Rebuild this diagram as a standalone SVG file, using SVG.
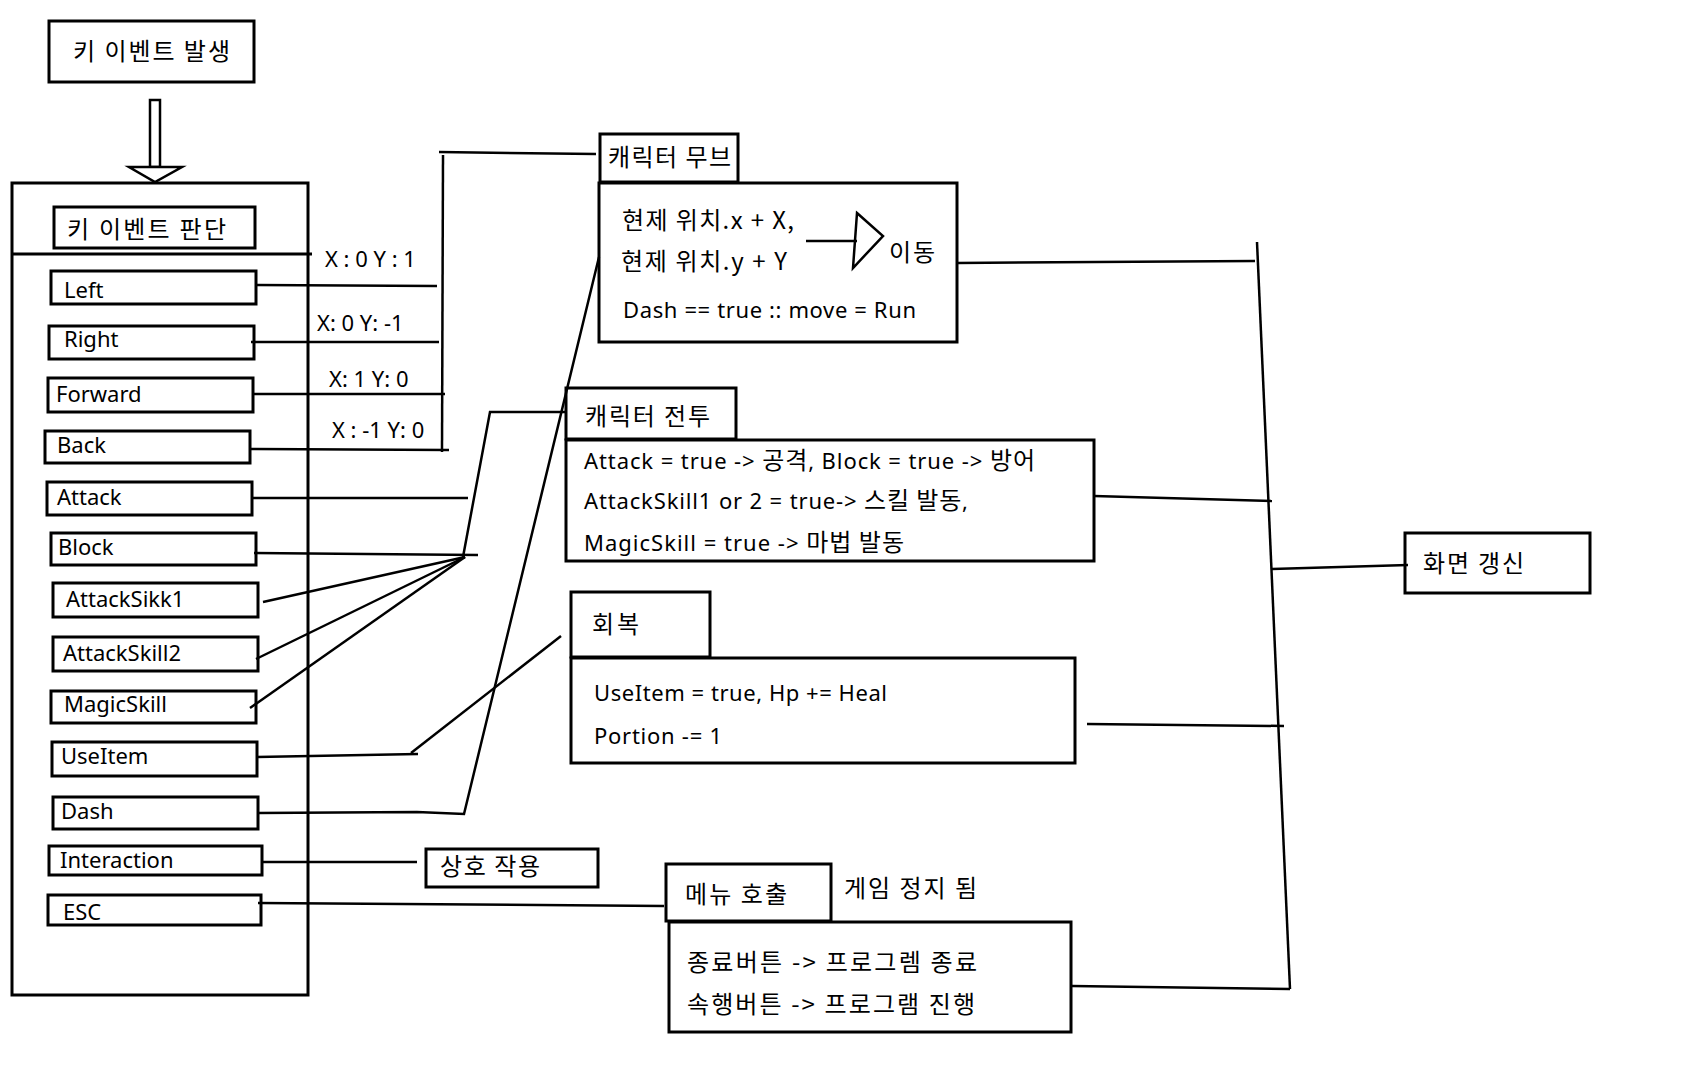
<svg xmlns="http://www.w3.org/2000/svg" width="1707" height="1067" viewBox="0 0 1707 1067">
<style>
.box{fill:#fff;stroke:#000;stroke-width:3}
.frame{fill:none;stroke:#000;stroke-width:3}
.ln{fill:none;stroke:#000;stroke-width:2.5}
.t{font-family:"Noto Sans","Noto Sans CJK KR",sans-serif;font-size:22px;fill:#000}
.k{font-family:"Noto Sans CJK KR","Noto Sans",sans-serif;font-size:24px;fill:#000}
.kk{font-family:"Noto Sans CJK KR",sans-serif;font-size:24px}
</style>
<rect width="1707" height="1067" fill="#fff"/>

<g id="node-key-event">
<rect class="box" x="49" y="21" width="205" height="61"/>
<text class="k" x="73" y="60" textLength="157">키 이벤트 발생</text>
</g>

<g id="node-key-judge">
<rect class="frame" x="12" y="183" width="296" height="812"/>
<rect class="box" x="54" y="207" width="201" height="41"/>
<text class="k" x="67" y="238" textLength="159">키 이벤트 판단</text>
<line class="frame" x1="12" y1="254" x2="312" y2="254"/>
</g>

<g id="node-left"><rect class="box" x="51" y="271" width="205" height="33"/><text class="t" x="64" y="298">Left</text></g>
<g id="node-right"><rect class="box" x="49" y="326" width="205" height="33"/><text class="t" x="64" y="347">Right</text></g>
<g id="node-forward"><rect class="box" x="48" y="378" width="205" height="34"/><text class="t" x="56" y="402">Forward</text></g>
<g id="node-back"><rect class="box" x="45" y="431" width="205" height="32"/><text class="t" x="57" y="453">Back</text></g>
<g id="node-attack"><rect class="box" x="47" y="482" width="205" height="33"/><text class="t" x="57" y="505">Attack</text></g>
<g id="node-block"><rect class="box" x="51" y="533" width="205" height="32"/><text class="t" x="58" y="555">Block</text></g>
<g id="node-attackskill1"><rect class="box" x="53" y="583" width="205" height="34"/><text class="t" x="66" y="607">AttackSikk1</text></g>
<g id="node-attackskill2"><rect class="box" x="53" y="637" width="205" height="34"/><text class="t" x="63" y="661">AttackSkill2</text></g>
<g id="node-magicskill"><rect class="box" x="51" y="691" width="205" height="32"/><text class="t" x="64" y="712">MagicSkill</text></g>
<g id="node-useitem"><rect class="box" x="52" y="742" width="205" height="34"/><text class="t" x="61" y="764">UseItem</text></g>
<g id="node-dash"><rect class="box" x="53" y="797" width="205" height="32"/><text class="t" x="61" y="819">Dash</text></g>
<g id="node-interaction"><rect class="box" x="49" y="846" width="213" height="29"/><text class="t" x="60" y="868">Interaction</text></g>
<g id="node-esc"><rect class="box" x="48" y="895" width="213" height="30"/><text class="t" x="63" y="920">ESC</text></g>

<g id="node-move">
<rect class="box" x="600" y="134" width="138" height="48"/>
<text class="k" x="608" y="166" textLength="123">캐릭터 무브</text>
<rect class="box" x="599" y="183" width="358" height="159"/>
<text class="k" x="622" y="229" textLength="172">현제 위치.x + X,</text>
<text class="k" x="621" y="270" textLength="166">현제 위치.y + Y</text>
<text class="t" x="623" y="318" textLength="293">Dash == true :: move = Run</text>
<line class="ln" x1="806" y1="241" x2="857" y2="241"/>
<polygon points="857,213 883,236 853,268" fill="none" stroke="#000" stroke-width="2.5"/>
<text class="k" x="889" y="261" textLength="46">이동</text>
</g>

<g id="node-combat">
<rect class="box" x="566" y="388" width="170" height="51"/>
<text class="k" x="585" y="425" textLength="125">캐릭터 전투</text>
<rect class="box" x="566" y="440" width="528" height="121"/>
<text class="t" x="584" y="469" textLength="451">Attack = true -&gt; <tspan class="kk">공격</tspan>, Block = true -&gt; <tspan class="kk">방어</tspan></text>
<text class="t" x="584" y="509" textLength="384">AttackSkill1 or 2 = true-&gt; <tspan class="kk">스킬 발동</tspan>,</text>
<text class="t" x="584" y="551" textLength="320">MagicSkill = true -&gt; <tspan class="kk">마법 발동</tspan></text>
</g>

<g id="node-heal">
<rect class="box" x="571" y="592" width="139" height="65"/>
<text class="k" x="592" y="633" textLength="47">회복</text>
<rect class="box" x="571" y="658" width="504" height="105"/>
<text class="t" x="594" y="701" textLength="293">UseItem = true, Hp += Heal</text>
<text class="t" x="594" y="744" textLength="128">Portion -= 1</text>
</g>

<g id="node-interact">
<rect class="box" x="426" y="849" width="172" height="38"/>
<text class="k" x="440" y="875" textLength="100">상호 작용</text>
</g>

<g id="node-menu">
<rect class="box" x="666" y="864" width="165" height="57"/>
<text class="k" x="685" y="903" textLength="102">메뉴 호출</text>
<text class="k" x="844" y="897" textLength="133">게임 정지 됨</text>
<rect class="box" x="669" y="922" width="402" height="110"/>
<text class="k" x="687" y="971" textLength="290">종료버튼 -&gt; 프로그렘 종료</text>
<text class="k" x="687" y="1013" textLength="288">속행버튼 -&gt; 프로그램 진행</text>
</g>

<g id="node-refresh">
<rect class="box" x="1405" y="533" width="185" height="60"/>
<text class="k" x="1423" y="572" textLength="101">화면 갱신</text>
</g>

<g id="connectors">
<rect x="150" y="100" width="10" height="67" fill="#fff" stroke="#000" stroke-width="2.5"/>
<polygon points="129,167 182,167 155,182" fill="#fff" stroke="#000" stroke-width="2.5"/>
<text class="t" x="325" y="267">X : 0 Y : 1</text>
<text class="t" x="317" y="331">X: 0 Y: -1</text>
<text class="t" x="329" y="387">X: 1 Y: 0</text>
<text class="t" x="332" y="438">X : -1 Y: 0</text>
<polyline class="ln" points="439,152 596,154"/>
<line class="ln" x1="443" y1="155" x2="442" y2="452"/>
<line class="ln" x1="256" y1="285" x2="437" y2="286"/>
<line class="ln" x1="251" y1="342" x2="439" y2="342"/>
<line class="ln" x1="252" y1="394" x2="445" y2="394"/>
<line class="ln" x1="250" y1="449" x2="449" y2="450"/>
<line class="ln" x1="252" y1="498" x2="468" y2="498"/>
<line class="ln" x1="254" y1="553" x2="478" y2="555"/>
<line class="ln" x1="263" y1="602" x2="465" y2="557"/>
<line class="ln" x1="256" y1="659" x2="465" y2="557"/>
<line class="ln" x1="250" y1="708" x2="465" y2="557"/>
<polyline class="ln" points="463,557 490,412 566,412"/>
<polyline class="ln" points="257,757 418,754"/>
<line class="ln" x1="411" y1="753" x2="561" y2="636"/>
<polyline class="ln" points="258,813 417,812 464,814 599,257"/>
<line class="ln" x1="262" y1="862" x2="417" y2="862"/>
<line class="ln" x1="258" y1="903" x2="664" y2="906"/>
<line class="ln" x1="957" y1="263" x2="1255" y2="261"/>
<line class="ln" x1="1257" y1="242" x2="1290" y2="989"/>
<line class="ln" x1="1094" y1="496" x2="1272" y2="501"/>
<line class="ln" x1="1087" y1="724" x2="1284" y2="726"/>
<line class="ln" x1="1072" y1="986" x2="1290" y2="989"/>
<line class="ln" x1="1272" y1="569" x2="1408" y2="565"/>
</g>
</svg>
